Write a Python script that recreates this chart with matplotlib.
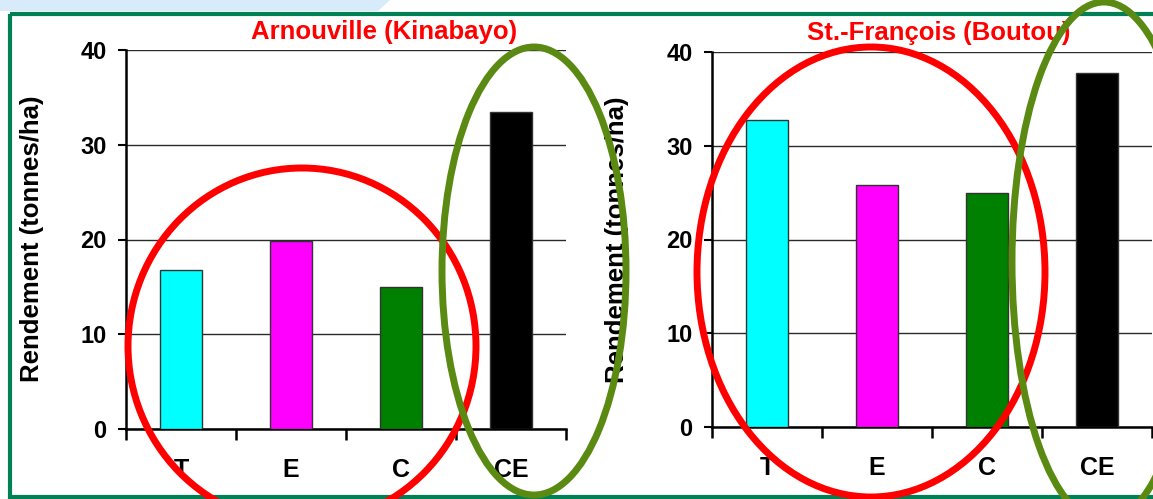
import matplotlib.pyplot as plt
from matplotlib.patches import Ellipse, Rectangle, Polygon

plt.rcParams['font.family'] = ['Liberation Sans', 'DejaVu Sans']
plt.rcParams['font.weight'] = 'bold'

# donnees
traitements = ['T', 'E', 'C', 'CE']
couleurs = ['#00ffff', '#ff00ff', '#008000', '#000000']
rdt_arnouville = [16.8, 19.8, 15.0, 33.5]
rdt_stfrancois = [32.7, 25.8, 25.0, 37.8]
titres = ['Arnouville (Kinabayo)', 'St.-François (Boutou)']
ylabel = 'Rendement (tonnes/ha)'

W, H = 1153, 499
fig = plt.figure(figsize=(W / 100, H / 100), dpi=100)

positions = [[126 / W, 1 - 429 / H, 440 / W, 379 / H],
             [712 / W, 1 - 427 / H, 440 / W, 375 / H]]
series = [rdt_arnouville, rdt_stfrancois]

for pos, vals in zip(positions, series):
    ax = fig.add_axes(pos)
    x = range(len(traitements))
    ax.bar(x, vals, width=0.38, color=couleurs, edgecolor='#333333', linewidth=1, zorder=3)
    ax.set_xlim(-0.5, 3.5)
    ax.set_ylim(0, 40)
    ax.set_yticks([0, 10, 20, 30, 40])
    ax.yaxis.grid(True, color='#2a2a2a', linewidth=1.0, zorder=0)
    ax.set_axisbelow(True)
    ax.spines['top'].set_visible(False)
    ax.spines['right'].set_visible(False)
    ax.spines['left'].set_linewidth(1.8)
    ax.spines['bottom'].set_linewidth(1.8)
    # ticks aux limites des categories
    ax.set_xticks([-0.5, 0.5, 1.5, 2.5, 3.5])
    ax.set_xticklabels([])
    ax.tick_params(axis='x', which='major', direction='out', length=8, width=1.8)
    ax.set_xticks(list(x), minor=True)
    ax.set_xticklabels(traitements, minor=True, fontsize=18, fontweight='bold')
    ax.tick_params(axis='x', which='minor', length=0, pad=21)
    ax.tick_params(axis='y', direction='out', length=6, width=1.5, pad=8, labelsize=17)
    for lab in ax.get_yticklabels():
        lab.set_fontweight('bold')

# titres et etiquettes des axes
fig.text(384 / W, 1 - 32 / H, titres[0], color='red', fontsize=18.5, fontweight='bold', ha='center', va='center')
fig.text(939 / W, 1 - 33 / H, titres[1], color='red', fontsize=18.5, fontweight='bold', ha='center', va='center')
fig.text(32 / W, 1 - 239 / H, ylabel, rotation=90, fontsize=18.5, fontweight='bold', ha='center', va='center')
fig.text(617 / W, 1 - 240 / H, ylabel, rotation=90, fontsize=18.5, fontweight='bold', ha='center', va='center')

# calque pour cadre et ellipses
ov = fig.add_axes([0, 0, 1, 1], zorder=10)
ov.set_xlim(0, W)
ov.set_ylim(H, 0)
ov.axis('off')
ov.patch.set_alpha(0)

ov.add_patch(Polygon([[0, 0], [390, 0], [378, 11], [0, 11]], closed=True, facecolor='#d8ebfa', edgecolor='none'))
ov.add_patch(Rectangle((9.5, 13.5), W + 10, 483, fill=False, edgecolor='#008055', linewidth=3))

ov.add_patch(Ellipse((302, 346), 348, 356, fill=False, edgecolor='#ff0000', linewidth=5))
ov.add_patch(Ellipse((534, 271), 184, 448, fill=False, edgecolor='#5a8a12', linewidth=5))
ov.add_patch(Ellipse((871, 272), 348, 450, fill=False, edgecolor='#ff0000', linewidth=5))
ov.add_patch(Ellipse((1104, 262), 184, 520, fill=False, edgecolor='#5a8a12', linewidth=5))

fig.savefig('out.png', dpi=100)
